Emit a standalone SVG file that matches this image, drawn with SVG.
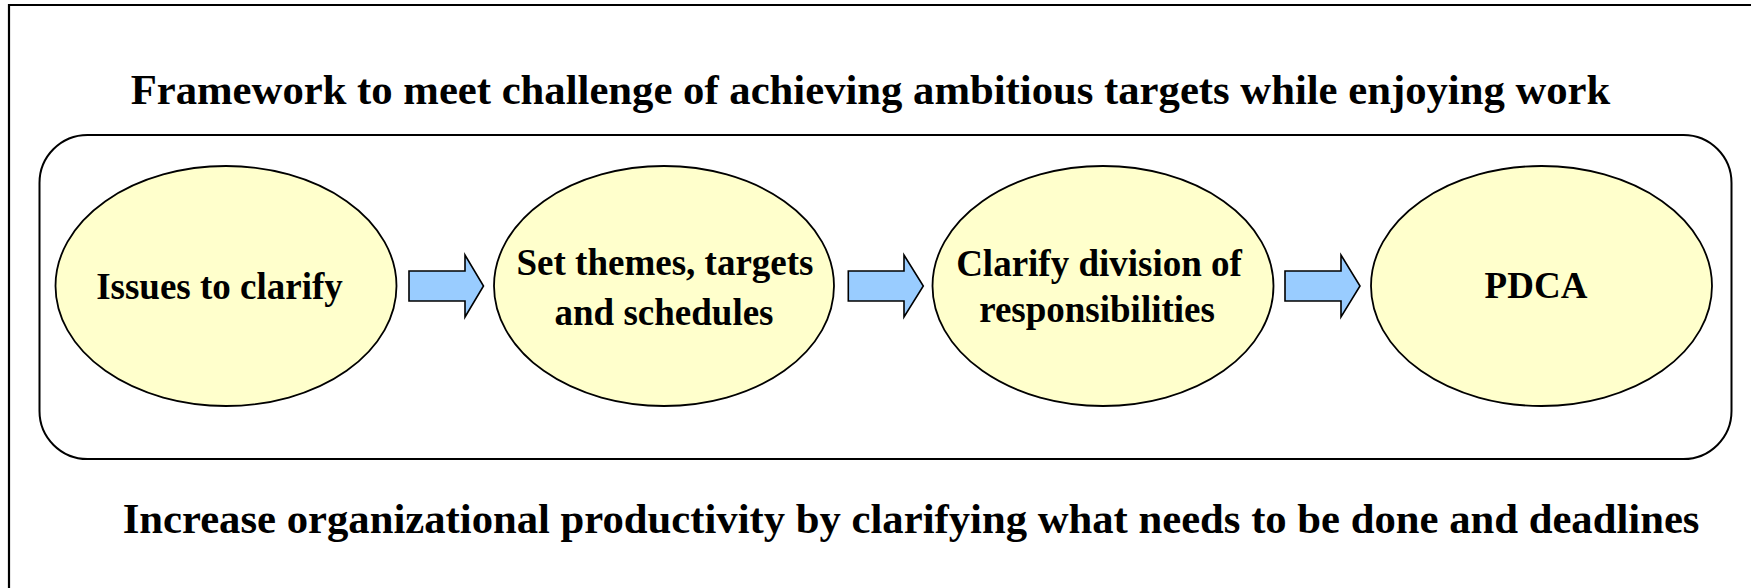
<svg xmlns="http://www.w3.org/2000/svg" width="1751" height="588" viewBox="0 0 1751 588">
  <style>
    .frame { fill: none; stroke: #000; stroke-width: 2.2; }
    .panel { fill: #fff; stroke: #000; stroke-width: 2; }
    .step { fill: #ffffcc; stroke: #000; stroke-width: 1.8; }
    .flow { fill: #99ccff; stroke: #000; stroke-width: 1.6; stroke-linejoin: miter; }
    .title { font-family: "Liberation Serif", "Times New Roman", serif; font-weight: 700; font-size: 42.7px; fill: #000; }
    .label { font-family: "Liberation Serif", "Times New Roman", serif; font-weight: 700; font-size: 37px; fill: #000; text-anchor: middle; }
  </style>

  <rect x="0" y="0" width="1751" height="588" fill="#fff"/>
  <!-- page frame: top and left edges -->
  <path class="frame" d="M9,588 V5 H1751"/>

  <text class="title" x="130.7" y="104">Framework to meet challenge of achieving ambitious targets while enjoying work</text>

  <!-- container around the process steps -->
  <rect id="process-panel" class="panel" x="39.5" y="135" width="1692" height="324" rx="48" ry="48"/>

  <g id="step-issues">
    <ellipse class="step" cx="226" cy="286" rx="170.5" ry="120"/>
    <text class="label" x="219.5" y="299">Issues to clarify</text>
  </g>

  <g id="step-themes">
    <ellipse class="step" cx="664" cy="286" rx="170" ry="120"/>
    <text class="label" x="665" y="275">Set themes, targets</text>
    <text class="label" x="664" y="325">and schedules</text>
  </g>

  <g id="step-responsibilities">
    <ellipse class="step" cx="1103" cy="286" rx="170.5" ry="120"/>
    <text class="label" x="1099" y="276">Clarify division of</text>
    <text class="label" x="1097" y="322">responsibilities</text>
  </g>

  <g id="step-pdca">
    <ellipse class="step" cx="1541.5" cy="286" rx="170.5" ry="120"/>
    <text class="label" x="1536" y="298">PDCA</text>
  </g>

  <!-- block arrows between steps -->
  <g id="connectors">
    <path class="flow" d="M409,271 H465 V255 L483.5,286 L465,317 V301 H409 Z"/>
    <path class="flow" d="M848.3,271 H904 V255 L923.3,286 L904,317 V301 H848.3 Z"/>
    <path class="flow" d="M1285,271 H1341 V255 L1360,286 L1341,317 V301 H1285 Z"/>
  </g>

  <text class="title" x="122.7" y="533">Increase organizational productivity by clarifying what needs to be done and deadlines</text>
</svg>
